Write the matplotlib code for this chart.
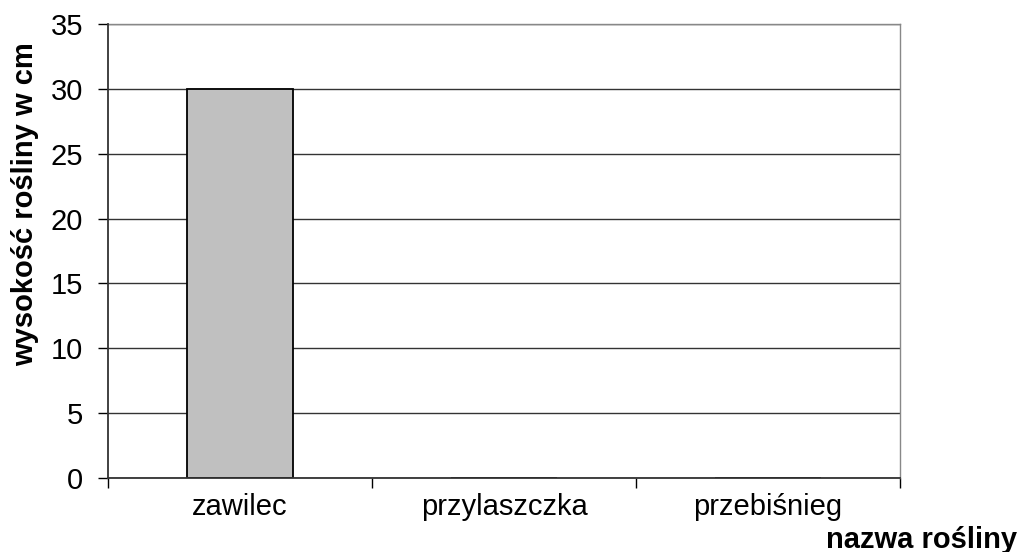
import matplotlib
matplotlib.use("Agg")
import matplotlib.pyplot as plt
import numpy as np

plt.rcParams["font.family"] = ["Liberation Sans", "DejaVu Sans"]

categories = ["zawilec", "przylaszczka", "przebiśnieg"]
heights = [30, 0, 0]
y_ticks = [0, 5, 10, 15, 20, 25, 30, 35]

fig = plt.figure(figsize=(10.22, 5.52), dpi=100)
ax = fig.add_axes([108 / 1022, 1 - 478 / 552, (900 - 108) / 1022, (478 - 24) / 552])

x = np.arange(len(categories))
ax.bar(x, heights, width=0.4, color="#c0c0c0", edgecolor="black", linewidth=1.3, zorder=2)

ax.set_xlim(-0.5, len(categories) - 0.5)
ax.set_ylim(0, 35)
ax.set_yticks(y_ticks)
ax.set_xticks(np.arange(len(categories) + 1) - 0.5)
ax.set_xticklabels([])
ax.set_xticks(x, minor=True)
ax.set_xticklabels(categories, minor=True)
ax.tick_params(axis="x", which="minor", length=0, pad=11, labelsize=21)
ax.tick_params(axis="x", which="major", length=7, width=1, direction="out")
ax.tick_params(axis="y", length=7, width=1, direction="out", labelsize=21, pad=11)

ax.yaxis.grid(True, color="#333333", linewidth=1, zorder=0)
ax.set_axisbelow(True)

for side in ("left", "bottom"):
    ax.spines[side].set_color("#333333")
    ax.spines[side].set_linewidth(1.3)
    ax.spines[side].set_zorder(3)
for side in ("top", "right"):
    ax.spines[side].set_color("#888888")
    ax.spines[side].set_linewidth(1)

# axis titles sit where the original chart put them, not centred on the axes
fig.text(25 / 1022, 1 - 204 / 552, "wysokość rośliny w cm", fontsize=21, fontweight="bold",
         rotation=90, ha="center", va="center")
fig.text(1017 / 1022, 1 - 548 / 552, "nazwa rośliny", fontsize=21, fontweight="bold",
         ha="right", va="baseline")

fig.savefig("out.png", dpi=100)
